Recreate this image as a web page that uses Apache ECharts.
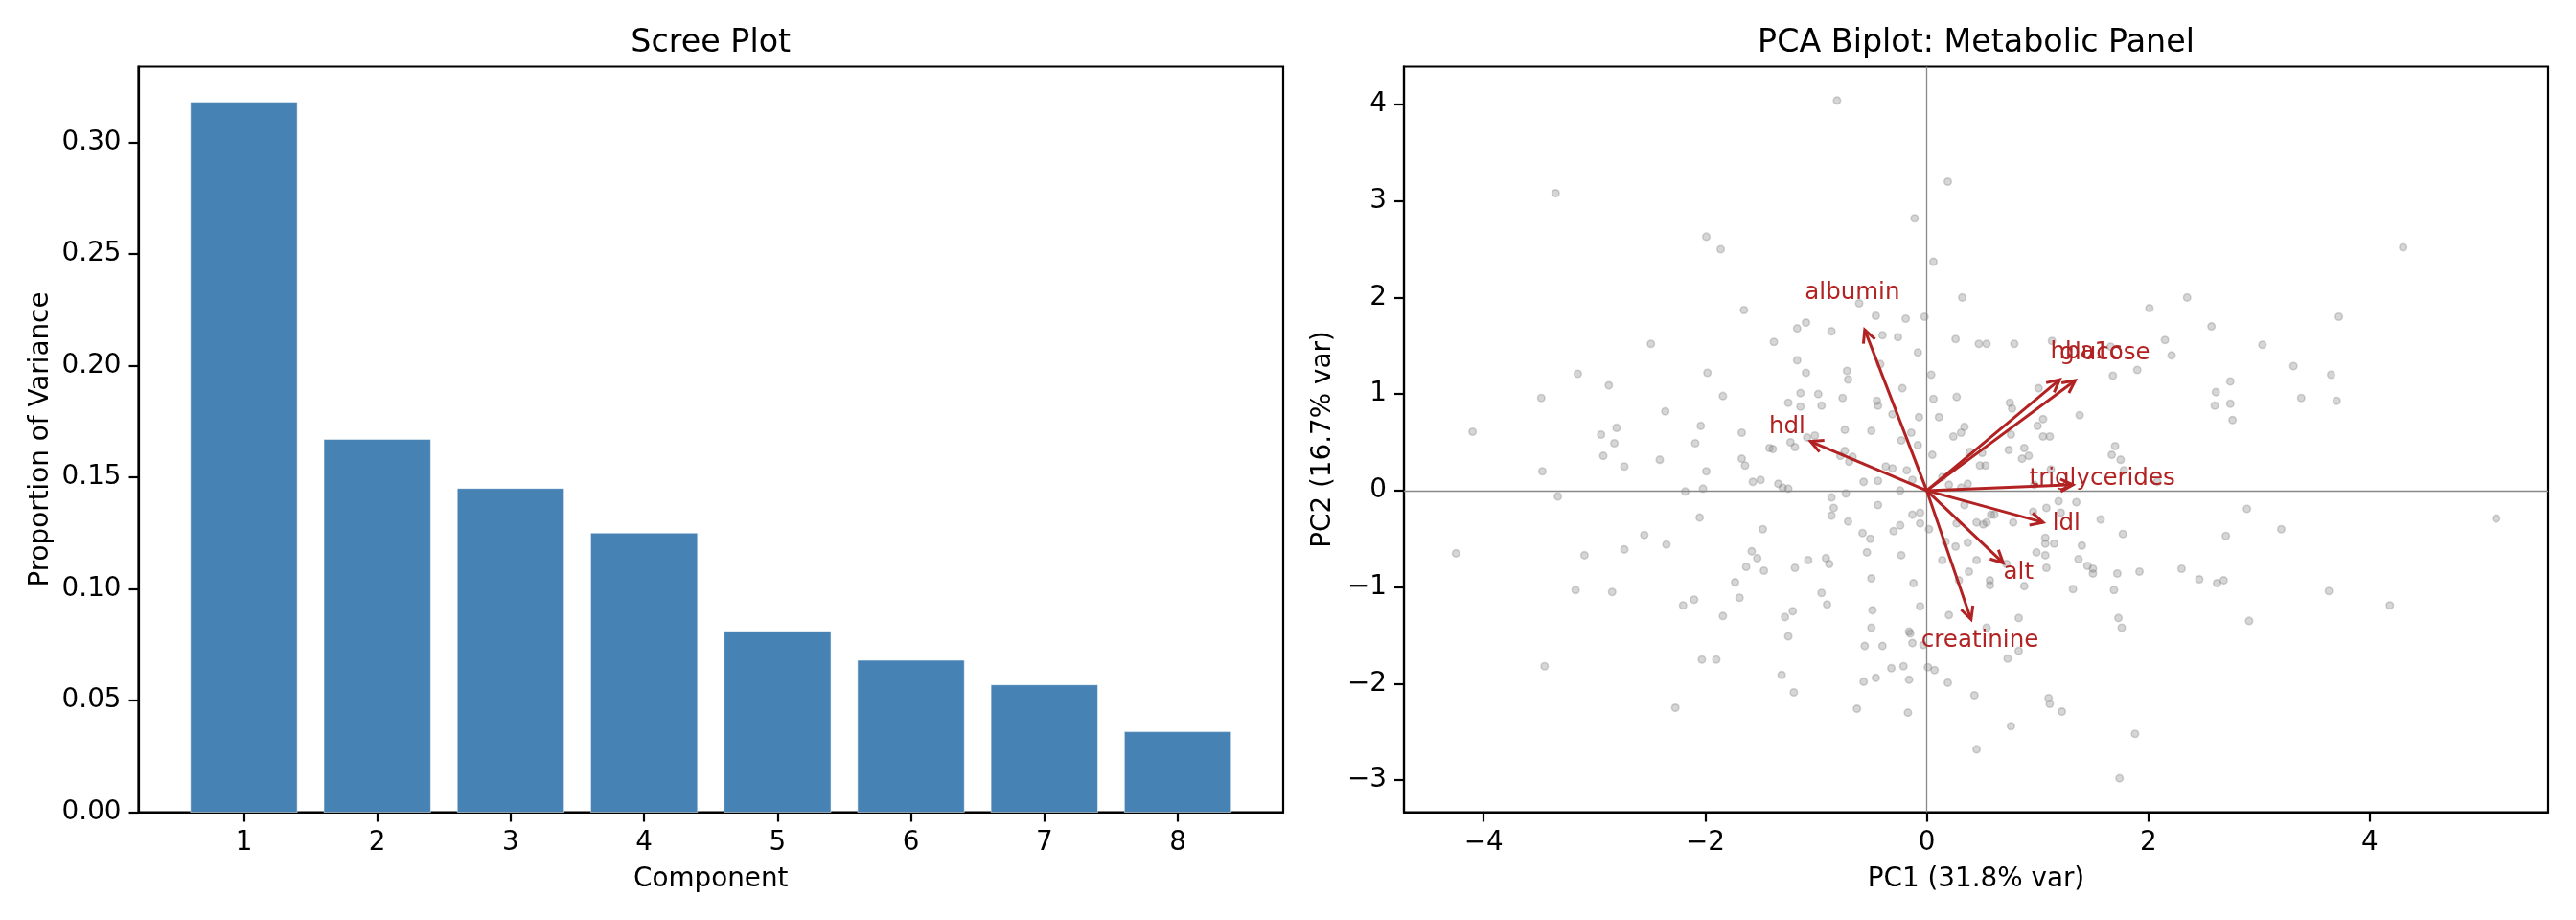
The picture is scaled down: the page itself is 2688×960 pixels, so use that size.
<!DOCTYPE html>
<html>
<head>
<meta charset="utf-8">
<title>PCA - Scree Plot / Biplot</title>
<script src="https://cdn.jsdelivr.net/npm/echarts@6/dist/echarts.min.js"></script>
<style>
html, body { margin: 0; padding: 0; background: #fff; }
#chart { width: 2688px; height: 960px; }
</style>
</head>
<body>
<div id="chart"></div>
<script>
// ---- scree plot data ----
var components = [1, 2, 3, 4, 5, 6, 7, 8];
var varianceRatio = [0.318, 0.167, 0.145, 0.125, 0.081, 0.068, 0.057, 0.036];
var screeTicks = [0, 0.05, 0.10, 0.15, 0.20, 0.25, 0.30];

// ---- biplot data ----
// PC scores of the samples (PC1, PC2)
var pcScores = [
  // centre, left half
  [-1.98,1.22],[-1.09,1.22],[-0.72,1.24],[-0.71,1.15],[0.04,1.20],[-0.22,1.06],[-1.84,0.98],[-1.14,1.01],
  [-0.98,1.00],[-1.25,0.91],[-1.14,0.87],[-0.95,0.88],[-0.76,0.96],[-0.45,0.93],[-0.44,0.88],[0.06,0.95],
  [0.27,0.97],[-0.31,0.79],[-0.07,0.76],[0.11,0.76],[-2.04,0.67],[-1.67,0.60],[-2.09,0.49],[-1.08,0.55],
  [-1.01,0.57],[-0.74,0.63],[-0.50,0.62],[-0.14,0.60],[-0.23,0.52],[-0.08,0.47],[0.24,0.56],[-1.42,0.44],
  [-1.39,0.43],[-1.23,0.50],[-1.19,0.45],[-0.74,0.41],[-0.67,0.35],[-0.70,0.30],[-0.78,0.36],[0.05,0.37],
  [-1.67,0.33],[-1.64,0.26],[-1.99,0.20],[-0.37,0.25],[-0.31,0.23],[-0.18,0.21],[-0.13,0.11],[-1.57,0.09],
  [-1.50,0.11],[-1.34,0.07],[-1.30,0.03],[-1.25,0.02],[-0.57,0.09],[-0.44,0.10],[-2.02,0.02],[-2.18,-0.01],
  [-0.73,-0.03],[-0.24,0.00],[-0.86,-0.07],[-0.84,-0.18],[-0.86,-0.26],[-0.44,-0.15],[-2.05,-0.28],[-0.71,-0.32],
  [-0.13,-0.25],[-0.06,-0.23],[-0.06,-0.34],[0.02,-0.40],[-0.24,-0.36],[-0.30,-0.42],[-1.48,-0.40],[-0.58,-0.44],
  [-0.51,-0.50],[-1.58,-0.63],[-1.53,-0.70],[-1.63,-0.79],[-1.47,-0.83],[-1.19,-0.80],[-1.07,-0.72],[-0.91,-0.70],
  [-0.88,-0.76],[-0.54,-0.64],[-0.23,-0.67],[0.17,-0.53],[0.26,-0.58],[0.14,-0.72],[-1.73,-0.95],[-1.69,-1.11],
  [-2.10,-1.13],[-0.50,-0.91],[-0.12,-0.96],[-0.95,-1.06],[-0.90,-1.18],[-1.21,-1.25],[-1.28,-1.31],[-1.84,-1.30],
  [-0.49,-1.24],[-0.06,-1.20],[0.20,-1.29],[-0.50,-1.42],[-0.16,-1.46],[0.29,-0.93],[0.27,-0.34],[0.20,0.06],
  [0.14,0.14],
  // centre, right half
  [1.68,1.19],[1.90,1.25],[2.74,1.13],[2.61,1.02],[2.60,0.88],[2.74,0.90],[2.76,0.73],[1.01,1.06],
  [0.75,0.91],[0.77,0.85],[1.38,0.78],[1.05,0.74],[1.00,0.67],[0.34,0.66],[0.31,0.60],[0.76,0.58],
  [1.05,0.56],[1.11,0.56],[0.74,0.42],[0.88,0.44],[0.92,0.36],[0.86,0.33],[0.50,0.39],[0.39,0.40],
  [0.48,0.26],[0.53,0.26],[1.70,0.46],[1.67,0.37],[1.75,0.32],[1.12,0.22],[1.78,0.21],[0.37,0.07],
  [0.31,0.03],[0.97,0.06],[2.08,0.09],[0.34,-0.15],[1.19,-0.11],[1.35,-0.12],[0.96,-0.22],[1.08,-0.18],
  [1.21,-0.23],[0.58,-0.25],[0.61,-0.25],[0.45,-0.33],[0.51,-0.35],[0.54,-0.33],[0.78,-0.33],[1.57,-0.30],
  [1.77,-0.45],[2.70,-0.47],[1.07,-0.49],[1.07,-0.55],[1.15,-0.55],[1.40,-0.57],[0.37,-0.54],[0.99,-0.64],
  [1.07,-0.67],[1.37,-0.71],[0.45,-0.72],[0.72,-0.76],[1.08,-0.80],[1.45,-0.78],[1.50,-0.81],[1.50,-0.86],
  [1.72,-0.86],[1.92,-0.84],[2.30,-0.81],[2.46,-0.92],[2.62,-0.96],[2.68,-0.93],[0.38,-0.84],[0.57,-0.93],
  [0.57,-0.98],[0.88,-0.99],[1.32,-1.02],[1.69,-1.03],[0.83,-1.32],[1.73,-1.32],[1.76,-1.42],[0.54,-1.42],
  // upper left
  [-0.81,4.04],[-3.35,3.08],[0.19,3.20],[-0.11,2.82],[-1.99,2.63],[-1.86,2.50],[0.06,2.37],[-1.65,1.87],
  [0.32,2.00],[-0.61,1.94],[-0.46,1.81],[-0.19,1.78],[-0.02,1.80],[-1.17,1.68],[-1.09,1.74],[-0.86,1.65],
  [-2.49,1.52],[-1.38,1.54],[-0.40,1.61],[-0.26,1.59],[0.26,1.57],[-0.08,1.43],[-1.17,1.35],[-3.15,1.21],
  [-0.42,1.31],[-2.87,1.09],[-3.48,0.96],[-2.36,0.82],[-4.10,0.61],[-2.94,0.58],[-2.80,0.65],
  // lower left
  [-2.82,0.49],[-2.92,0.36],[-2.73,0.25],[-2.41,0.32],[-3.47,0.20],[-3.33,-0.06],[-4.25,-0.65],[-3.09,-0.67],
  [-2.73,-0.61],[-2.55,-0.46],[-2.35,-0.56],[-3.17,-1.03],[-2.84,-1.05],[-2.20,-1.19],[-3.45,-1.82],[-2.03,-1.75],
  [-1.90,-1.75],[-2.27,-2.25],[-1.31,-1.91],[-1.20,-2.09],[-0.63,-2.26],[-0.17,-2.30],[-0.57,-1.98],[-0.46,-1.94],
  [-0.32,-1.84],[-0.21,-1.82],[-0.16,-1.96],[0.01,-1.83],[0.07,-1.86],[0.19,-1.99],[-1.25,-1.51],[-0.56,-1.61],
  [-0.40,-1.61],[-0.15,-1.48],[-0.13,-1.58],[-0.03,-1.60],
  // upper right
  [4.30,2.52],[2.01,1.89],[2.35,2.00],[2.57,1.70],[3.72,1.80],[0.47,1.52],[0.54,1.52],[0.79,1.52],
  [1.13,1.55],[1.66,1.49],[2.15,1.56],[2.21,1.40],[3.03,1.51],[3.31,1.29],[3.65,1.20],[3.38,0.96],
  [3.70,0.93],
  // lower right
  [5.14,-0.29],[2.89,-0.19],[3.20,-0.40],[3.63,-1.04],[4.18,-1.19],[2.91,-1.35],[0.83,-1.66],[0.73,-1.74],
  [0.43,-2.12],[1.10,-2.15],[1.11,-2.21],[1.22,-2.29],[0.76,-2.44],[1.88,-2.52],[0.45,-2.68],[1.74,-2.98]
];

// loading vectors (scaled) per variable
var loadingNames = ['glucose', 'hba1c', 'ldl', 'hdl', 'triglycerides', 'creatinine', 'alt', 'albumin'];
var loadingPC1   = [1.34, 1.20, 1.05, -1.05, 1.32, 0.40, 0.69, -0.56];
var loadingPC2   = [1.14, 1.15, -0.33, 0.51, 0.06, -1.335, -0.75, 1.665];

var pc1Ticks = [-4, -2, 0, 2, 4];
var pc2Ticks = [-3, -2, -1, 0, 1, 2, 3, 4];

// ---- style constants ----
var FONT = 'DejaVu Sans';
var BAR_COLOR = '#4682B4';
var ARROW_COLOR = '#B22222';
var BAR_WIDTH = 0.8;
var LABEL_SCALE = 1.2;
var MINUS = '\u2212';

// matplotlib-like autoscale: 5% margin on each side
function padRange(lo, hi) {
  var m = (hi - lo) * 0.05;
  return [lo - m, hi + m];
}
var xs = pcScores.map(function (p) { return p[0]; });
var ys = pcScores.map(function (p) { return p[1]; });
var pc1Range = padRange(Math.min.apply(null, xs), Math.max.apply(null, xs));
var pc2Range = padRange(Math.min.apply(null, ys), Math.max.apply(null, ys));
var compRange = padRange(components[0] - BAR_WIDTH / 2, components[components.length - 1] + BAR_WIDTH / 2);
var screeMax = Math.max.apply(null, varianceRatio) * 1.05;

function fmtInt(v) { return v < 0 ? MINUS + Math.abs(v) : String(v); }

function axis(opts) {
  return {
    type: 'value',
    gridIndex: opts.grid,
    min: opts.min,
    max: opts.max,
    name: opts.name,
    nameLocation: 'middle',
    nameGap: opts.nameGap,
    nameTextStyle: { color: '#000', fontSize: 27.8, fontFamily: FONT },
    axisLine: { show: true, onZero: false, lineStyle: { color: '#000', width: 2.2 } },
    axisTick: { show: true, length: 10, customValues: opts.ticks, lineStyle: { color: '#000', width: 2.2 } },
    axisLabel: { show: true, customValues: opts.ticks, formatter: opts.fmt, color: '#000',
                 fontSize: 27.8, fontFamily: FONT, margin: 18 },
    splitLine: { show: false }
  };
}

var chart = echarts.init(document.getElementById('chart'));

var option = {
  animation: false,
  backgroundColor: '#fff',
  title: [
    { text: 'Scree Plot', left: 741.7, top: 29, textAlign: 'center', padding: 0,
      textStyle: { fontSize: 33.3, fontWeight: 'normal', fontFamily: FONT, color: '#000' } },
    { text: 'PCA Biplot: Metabolic Panel', left: 2062, top: 29, textAlign: 'center', padding: 0,
      textStyle: { fontSize: 33.3, fontWeight: 'normal', fontFamily: FONT, color: '#000' } }
  ],
  grid: [
    { left: 144.5, right: 1349, top: 69.5, bottom: 112.5, show: true, borderColor: '#000', borderWidth: 2.2 },
    { left: 1465, right: 29, top: 69.5, bottom: 112.5, show: true, borderColor: '#000', borderWidth: 2.2 }
  ],
  xAxis: [
    axis({ grid: 0, min: compRange[0], max: compRange[1], name: 'Component', nameGap: 56,
           ticks: components, fmt: function (v) { return String(v); } }),
    axis({ grid: 1, min: pc1Range[0], max: pc1Range[1], name: 'PC1 (31.8% var)', nameGap: 56,
           ticks: pc1Ticks, fmt: fmtInt })
  ],
  yAxis: [
    axis({ grid: 0, min: 0, max: screeMax, name: 'Proportion of Variance', nameGap: 88,
           ticks: screeTicks, fmt: function (v) { return v.toFixed(2); } }),
    axis({ grid: 1, min: pc2Range[0], max: pc2Range[1], name: 'PC2 (16.7% var)', nameGap: 70,
           ticks: pc2Ticks, fmt: fmtInt })
  ],
  series: [
    {
      // scree bars, width 0.8 in axis units
      type: 'custom',
      xAxisIndex: 0, yAxisIndex: 0,
      encode: { x: 0, y: 1 },
      data: components.map(function (c, i) { return [c, varianceRatio[i]]; }),
      renderItem: function (params, api) {
        var c = api.value(0), v = api.value(1);
        var tl = api.coord([c - BAR_WIDTH / 2, v]);
        var br = api.coord([c + BAR_WIDTH / 2, 0]);
        return {
          type: 'rect',
          shape: { x: tl[0], y: tl[1], width: br[0] - tl[0], height: br[1] - tl[1] },
          style: { fill: BAR_COLOR, stroke: 'rgba(255,255,255,0.5)', lineWidth: 1 }
        };
      }
    },
    {
      type: 'scatter',
      xAxisIndex: 1, yAxisIndex: 1,
      data: pcScores,
      symbol: 'circle',
      symbolSize: 7.5,
      silent: true,
      itemStyle: { color: 'rgba(128,128,128,0.4)', borderColor: 'rgba(128,128,128,0.4)', borderWidth: 1.6 },
      markLine: {
        silent: true,
        symbol: 'none',
        label: { show: false },
        lineStyle: { color: '#888', width: 1.3, type: 'solid' },
        data: [{ xAxis: 0 }, { yAxis: 0 }]
      }
    },
    {
      // loading arrows with labels
      type: 'custom',
      xAxisIndex: 1, yAxisIndex: 1,
      encode: { x: 0, y: 1 },
      z: 5,
      data: loadingNames.map(function (n, i) { return [loadingPC1[i], loadingPC2[i]]; }),
      renderItem: function (params, api) {
        var x = api.value(0), y = api.value(1);
        var o = api.coord([0, 0]);
        var t = api.coord([x, y]);
        var dx = t[0] - o[0], dy = t[1] - o[1];
        var len = Math.sqrt(dx * dx + dy * dy);
        var ux = dx / len, uy = dy / len;
        var nx = -uy, ny = ux;
        var L = 13, W = 6.5;
        var lp = api.coord([x * LABEL_SCALE, y * LABEL_SCALE]);
        return {
          type: 'group',
          children: [
            { type: 'line', shape: { x1: o[0], y1: o[1], x2: t[0], y2: t[1] },
              style: { stroke: ARROW_COLOR, lineWidth: 3 } },
            { type: 'polyline',
              shape: { points: [[t[0] - L * ux + W * nx, t[1] - L * uy + W * ny], [t[0], t[1]],
                                [t[0] - L * ux - W * nx, t[1] - L * uy - W * ny]] },
              style: { stroke: ARROW_COLOR, lineWidth: 3, fill: null, lineJoin: 'miter' } },
            { type: 'text', x: lp[0], y: lp[1] - 5,
              style: { text: loadingNames[params.dataIndex], fill: ARROW_COLOR, fontSize: 24.5,
                       fontFamily: FONT, align: 'center', verticalAlign: 'middle' } }
          ]
        };
      }
    }
  ]
};

chart.setOption(option);
</script>
</body>
</html>
